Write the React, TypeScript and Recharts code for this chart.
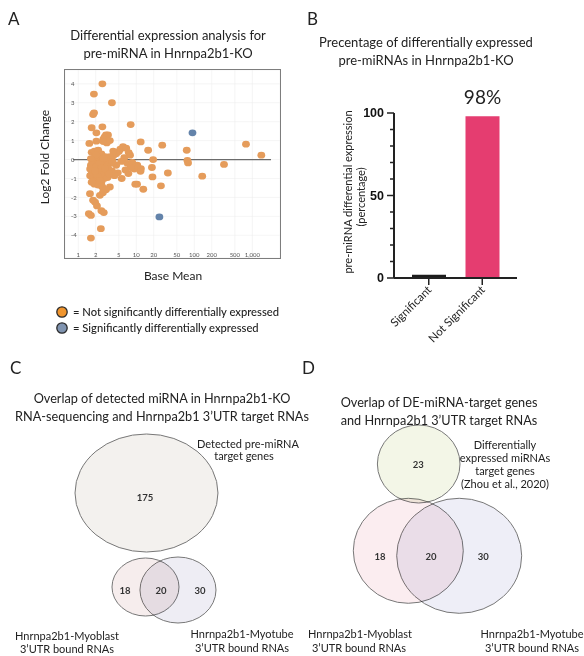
import React from 'react';
import {
  ScatterChart, Scatter, XAxis, YAxis, CartesianGrid, ReferenceLine,
  BarChart, Bar, Cell, LabelList,
} from 'recharts';

const FONT = "Lato, 'Open Sans', sans-serif";

// ---------- Panel A data: [baseMean, log2FoldChange] ----------
const notSignificantPoints: [number, number][] = [
  [2.6, 4.0], [1.86, 3.46], [3.8, 3.0], [1.8, 2.38], [1.87, 2.47], [8.0, 1.85],
  [1.7, 1.68], [2.6, 1.73], [2.05, 1.41], [3.0, 1.3], [3.25, 1.3], [2.85, 1.2],
  [2.7, 1.08], [1.55, 0.85], [11.9, 0.93], [3.1, 0.88], [2.7, 0.95], [2.05, 0.97],
  [777, 0.81], [28, 0.76], [16, 0.49], [74, 0.49], [1430, 0.23],
  [325, -0.26], [76, -0.05], [78, -0.18], [137, -0.88], [35, -0.71], [26.6, -1.39],
  [19, -0.92], [18.6, -0.42], [19.5, 0.0], [13.2, -1.57], [10.3, -1.3], [9.6, -1.3],
  [5.6, -1.0], [7.3, -0.74], [12, -0.48], [11.8, -0.62], [10.4, -0.3], [7.8, 0.23],
  [7.4, 0.37], [5.9, 0.68], [5.3, 0.55], [6.7, 0.6], [5.0, 0.42], [4.5, 0.3],
  [4.0, 0.2], [6.2, 0.1], [5.5, -0.1], [7.0, -0.2], [8.5, -0.15], [9.2, -0.5],
  [8.0, -0.42], [6.5, -0.55], [4.8, -0.7], [4.2, -0.85], [3.8, -0.6], [4.5, -0.3],
  [3.6, -0.2], [3.5, 0.15],
  [1.7, 0.38], [1.9, 0.45], [2.2, 0.5], [2.5, 0.3], [2.9, 0.15], [1.65, -0.3],
  [1.75, -0.1], [1.9, 0.1], [2.1, -0.2], [2.3, 0.05], [2.6, -0.1], [2.8, -0.3],
  [3.1, -0.35], [3.3, -0.05], [1.6, -0.85], [1.7, -0.6], [1.85, -0.45], [2.0, -0.7],
  [2.2, -0.55], [2.4, -0.4], [2.7, -0.6], [3.0, -0.7], [3.3, -0.5], [1.8, -1.0],
  [2.0, -1.1], [2.3, -0.9], [2.5, -1.2], [2.8, -1.0], [3.2, -0.95], [1.9, -1.3],
  [2.2, -1.35], [2.6, -1.45], [1.75, -0.25], [2.45, -0.75],
  [1.6, -0.5], [2.05, -0.35], [2.35, -0.2], [2.55, -0.45], [2.15, -0.85], [1.95, -0.6],
  [2.9, -0.5], [3.4, -0.75], [2.05, 0.25], [2.75, 0.05], [1.65, 0.05], [3.9, -0.1],
  [3.5, 1.0], [2.35, -1.1], [1.7, -1.2], [4.0, 0.45],
  [3.5, -1.45], [3.0, -1.6], [2.65, -1.75], [1.59, -1.8], [2.36, -1.89], [1.8, -2.15],
  [1.95, -2.25], [2.1, -2.45], [1.52, -2.86], [1.65, -2.95], [2.5, -2.7], [2.75, -2.8],
  [2.45, -3.65], [1.65, -4.15],
];
const significantPoints: [number, number][] = [[93, 1.41], [25, -3.03]];
const baseMeanTicks = [1, 2, 5, 10, 20, 50, 100, 200, 500, 1000];
const log2FCTicks = [-4, -3, -2, -1, 0, 1, 2, 3, 4];

// ---------- Panel B data ----------
const barCategories = ['Significant', 'Not Significant'];
const barValues = [2, 98];
const barLabels = ['', '98%'];
const percentTicks = [0, 10, 20, 30, 40, 50, 60, 70, 80, 90, 100];

// ---------- Panel C / D data (gene counts) ----------
const vennCSets = ['Detected pre-miRNA target genes', 'Hnrnpa2b1-Myoblast', 'Hnrnpa2b1-Myotube'];
const vennCCounts = [175, 18, 20, 30];
const vennDSets = ['DE miRNAs target genes', 'Hnrnpa2b1-Myoblast', 'Hnrnpa2b1-Myotube'];
const vennDCounts = [23, 18, 20, 30];

// ---------- layout (diagram geometry in 0..100 units) ----------
const VENN_SIZE = 300;
const U = VENN_SIZE / 100;
const vennCShapes = [
  { cx: 48.83, cy: 47.67, rx: 23.83, ry: 19.67, fill: '#F3F1EE' },
  { cx: 48.5, cy: 79, rx: 11.17, ry: 9.67, fill: '#F6EDED' },
  { cx: 59.33, cy: 80, rx: 12.67, ry: 11, fill: '#EEEDF4' },
];
const vennCCountPos = [[48.33, 49], [41.67, 80], [53.67, 80], [66.67, 80]];
const vennDShapes = [
  { cx: 42.9, cy: 38, rx: 13.77, ry: 13, fill: '#F3F6E7' },
  { cx: 39.43, cy: 66.93, rx: 18.33, ry: 17.5, fill: '#FBEDF0' },
  { cx: 56.4, cy: 68.6, rx: 20.83, ry: 19.17, fill: '#EEEEF7' },
];
const vennDCountPos = [[42.77, 38.33], [30, 68.67], [47, 68.67], [64.43, 68.67]];

const ORANGE = '#E59C5B';
const BLUE = '#6383AA';

const T = ({ x, y, children, size = 12.5, weight = 400, color = '#222', rotate = 0, anchor = 'center' }: any) => (
  <div
    style={{
      position: 'absolute', left: x, top: y, whiteSpace: 'nowrap', lineHeight: 1,
      fontSize: size, fontWeight: weight, color, fontFamily: FONT,
      transform: `translate(${anchor === 'left' ? '0' : '-50%'}, -50%) rotate(${rotate}deg)`,
      transformOrigin: anchor === 'left' ? 'left center' : 'center center',
    }}
  >
    {children}
  </div>
);

const dot = (color: string) => (p: any) => (
  <ellipse cx={p.cx} cy={p.cy} rx={3.9} ry={3.4} fill={color} />
);

const PanelA = () => {
  const ns = notSignificantPoints.map(([x, y]) => ({ x, y }));
  const sg = significantPoints.map(([x, y]) => ({ x, y }));
  return (
    <div style={{ position: 'absolute', left: 65, top: 70, width: 215, height: 188, outline: '1.6px solid #7d7d7d' }}>
      <ScatterChart width={215} height={188} margin={{ top: 0, right: 0, bottom: 0, left: 0 }}>
        <CartesianGrid stroke="#eeeeee" strokeWidth={0.6} />
        <XAxis
          type="number" dataKey="x" scale="log" domain={[0.59, 3000]} allowDataOverflow
          ticks={baseMeanTicks} interval={0} mirror axisLine={false} tickLine={false}
          tickSize={0} tickMargin={1}
          tickFormatter={(v: number) => v.toLocaleString('en-US')}
          tick={{ fontSize: 6, fill: '#555', fontFamily: FONT }}
        />
        <YAxis
          type="number" dataKey="y" domain={[-5.2, 4.73]} allowDataOverflow
          ticks={log2FCTicks} interval={0} mirror axisLine={false} tickLine={false}
          tickSize={4} tickMargin={2}
          tick={{ fontSize: 6, fill: '#555', fontFamily: FONT }}
        />
        <ReferenceLine segment={[{ x: 0.81, y: 0 }, { x: 2100, y: 0 }]} stroke="#6b6b6b" strokeWidth={1.2} />
        <Scatter data={ns} fill={ORANGE} shape={dot(ORANGE)} isAnimationActive={false} />
        <Scatter data={sg} fill={BLUE} shape={dot(BLUE)} isAnimationActive={false} />
      </ScatterChart>
    </div>
  );
};

const YTick = (p: any) => {
  const v = p.payload.value;
  const major = v % 50 === 0;
  return (
    <g>
      <line x1={p.x - (major ? 7 : 4)} x2={p.x} y1={p.y} y2={p.y} stroke="#222" strokeWidth={1.5} />
      {major && (
        <text x={p.x - 10} y={p.y} textAnchor="end" dominantBaseline="central"
          fontSize={12.5} fontWeight={700} fill="#111" fontFamily="'Liberation Sans', Arial, sans-serif">
          {v}
        </text>
      )}
    </g>
  );
};

const XTick = (p: any) => (
  <g transform={`translate(${p.x},${p.y})`}>
    <text x={0} y={0} dy={5} textAnchor="end" transform="rotate(-45)" fontSize={11.5} fill="#222" fontFamily={FONT}>
      {p.payload.value}
    </text>
  </g>
);

const PanelB = () => {
  const data = barCategories.map((name, i) => ({ name, value: barValues[i], label: barLabels[i] }));
  const colors = ['#1c1c1c', '#E53D70'];
  return (
    <div style={{ position: 'absolute', left: 300, top: 70 }}>
      <BarChart width={230} height={285} data={data} margin={{ top: 43, right: 13, left: 44, bottom: 0 }} barSize={34}>
        <XAxis dataKey="name" height={77} interval={0} padding={{ left: 8, right: 8 }}
          axisLine={{ stroke: '#222', strokeWidth: 2 }} tickLine={{ stroke: '#222', strokeWidth: 1.5 }}
          tickSize={7} tick={<XTick />} />
        <YAxis width={50} type="number" domain={[0, 100]} ticks={percentTicks} interval={0}
          axisLine={{ stroke: '#222', strokeWidth: 2 }} tickLine={false} tickSize={0} tickMargin={0}
          tick={<YTick />} />
        <Bar dataKey="value" isAnimationActive={false}>
          {data.map((d, i) => <Cell key={d.name} fill={colors[i]} />)}
          <LabelList dataKey="label" position="top" offset={12} fontSize={19} fill="#222" fontFamily={FONT} />
        </Bar>
      </BarChart>
    </div>
  );
};

const Venn = ({ left, top, shapes, countPos, counts, sets }: any) => {
  const shapeData = shapes.map((s: any, i: number) => ({ ...s, x: s.cx, y: s.cy, name: sets[i] }));
  const countData = counts.map((c: number, i: number) => ({ x: countPos[i][0], y: countPos[i][1], count: c }));
  return (
    <div style={{ position: 'absolute', left, top }}>
      <ScatterChart width={VENN_SIZE} height={VENN_SIZE} margin={{ top: 0, right: 0, bottom: 0, left: 0 }}>
        <XAxis type="number" dataKey="x" domain={[0, 100]} hide />
        <YAxis type="number" dataKey="y" domain={[0, 100]} reversed hide />
        <Scatter data={shapeData} isAnimationActive={false}
          shape={(p: any) => (
            <ellipse cx={p.cx} cy={p.cy} rx={p.payload.rx * U} ry={p.payload.ry * U}
              fill={p.payload.fill} stroke="#777" strokeWidth={1} style={{ mixBlendMode: 'multiply' }} />
          )} />
        <Scatter data={countData} isAnimationActive={false}
          shape={(p: any) => (
            <text x={p.cx} y={p.cy} textAnchor="middle" dominantBaseline="central" fontSize={9.5}
              fontWeight={700} fill="#333" fontFamily={FONT}>{p.payload.count}</text>
          )} />
      </ScatterChart>
    </div>
  );
};

export default function App() {
  return (
    <div style={{ position: 'relative', width: 584, height: 656, background: '#fff', overflow: 'hidden', fontFamily: FONT }}>
      <style>{'body{margin:0}'}</style>
      {/* Panel A */}
      <T x={8} y={18} size={17} anchor="left">A</T>
      <T x={168} y={35} size={13}>Differential expression analysis for</T>
      <T x={168} y={53} size={13}>pre-miRNA in Hnrnpa2b1-KO</T>
      <PanelA />
      <T x={45} y={157} size={12} rotate={-90}>Log2 Fold Change</T>
      <T x={173} y={276} size={12}>Base Mean</T>
      <svg style={{ position: 'absolute', left: 55, top: 305 }} width={16} height={30}>
        <circle cx={7} cy={7} r={5.2} fill="#F0952E" stroke="#2a2a2a" strokeWidth={1.3} />
        <circle cx={7} cy={23} r={5.2} fill="#8094B0" stroke="#2a2a2a" strokeWidth={1.3} />
      </svg>
      <T x={73} y={312} size={11.2} anchor="left" weight={500}>= Not significantly differentially expressed</T>
      <T x={73} y={328} size={11.2} anchor="left" weight={500}>= Significantly differentially expressed</T>

      {/* Panel B */}
      <T x={307} y={18} size={17} anchor="left">B</T>
      <T x={426} y={42} size={13}>Precentage of differentially expressed</T>
      <T x={426} y={60} size={13}>pre-miRNAs in Hnrnpa2b1-KO</T>
      <PanelB />
      <T x={347} y={192} size={11} rotate={-90}>pre-miRNA differential expression</T>
      <T x={360} y={197} size={11} rotate={-90}>(percentage)</T>

      {/* Panel C */}
      <T x={10} y={367} size={17} anchor="left">C</T>
      <T x={162} y={398} size={12.7}>Overlap of detected miRNA in Hnrnpa2b1-KO</T>
      <T x={162} y={416} size={12.7}>RNA-sequencing and Hnrnpa2b1 3’UTR target RNAs</T>
      <Venn left={0} top={350} shapes={vennCShapes} countPos={vennCCountPos} counts={vennCCounts} sets={vennCSets} />
      <T x={248} y={443} size={11}>Detected pre-miRNA</T>
      <T x={244} y={455} size={11}>target genes</T>
      <T x={67} y={635} size={11}>Hnrnpa2b1-Myoblast</T>
      <T x={67} y={648} size={11}>3’UTR bound RNAs</T>
      <T x={242} y={633} size={11}>Hnrnpa2b1-Myotube</T>
      <T x={242} y={647} size={11}>3’UTR bound RNAs</T>

      {/* Panel D */}
      <T x={302} y={367} size={17} anchor="left">D</T>
      <T x={439} y={402} size={12.7}>Overlap of DE-miRNA-target genes</T>
      <T x={439} y={420} size={12.7}>and Hnrnpa2b1 3’UTR target RNAs</T>
      <Venn left={290} top={350} shapes={vennDShapes} countPos={vennDCountPos} counts={vennDCounts} sets={vennDSets} />
      <T x={505} y={444} size={11}>Differentially</T>
      <T x={505} y={457} size={11}>expressed miRNAs</T>
      <T x={505} y={470} size={11}>target genes</T>
      <T x={505} y={483} size={11}>(Zhou et al., 2020)</T>
      <T x={360} y={633} size={11}>Hnrnpa2b1-Myoblast</T>
      <T x={359} y={647} size={11}>3’UTR bound RNAs</T>
      <T x={532} y={633} size={11}>Hnrnpa2b1-Myotube</T>
      <T x={532} y={647} size={11}>3’UTR bound RNAs</T>
    </div>
  );
}
